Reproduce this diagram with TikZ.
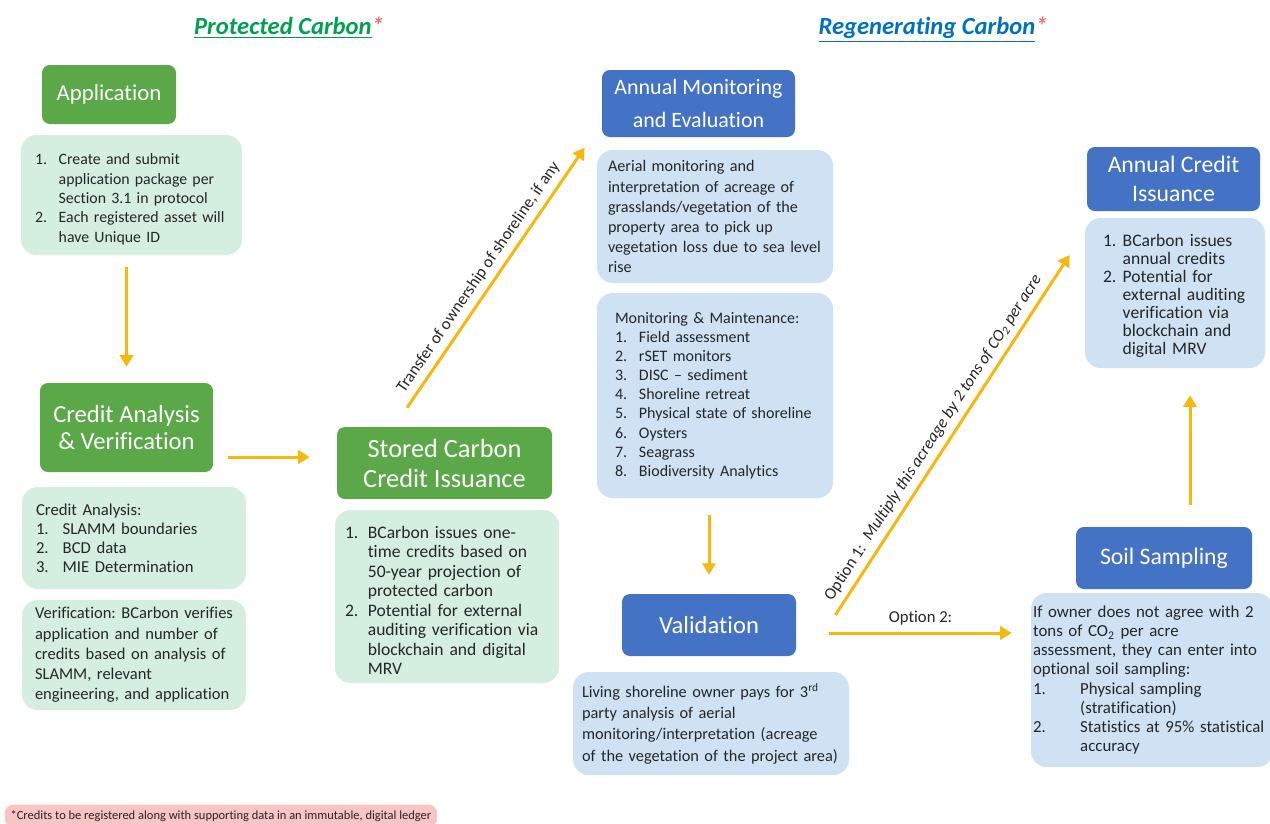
\documentclass[tikz,border=0pt]{standalone}
\usepackage{fontspec}
\setmainfont{Carlito}[Ligatures={TeX,NoCommon}]
\usetikzlibrary{arrows.meta}

\definecolor{hdrgreen}{RGB}{90,168,72}
\definecolor{boxgreen}{RGB}{212,238,224}
\definecolor{hdrblue}{RGB}{68,114,196}
\definecolor{boxblue}{RGB}{207,226,243}
\definecolor{arrowgold}{RGB}{246,184,12}
\definecolor{titlegreen}{RGB}{0,160,80}
\definecolor{titleblue}{RGB}{0,112,192}
\definecolor{starred}{RGB}{240,110,120}
\definecolor{notepink}{RGB}{249,196,196}
\definecolor{bodytext}{RGB}{38,38,38}

\newcommand{\litem}[3][1.5em]{\par\noindent\hangindent=#1\hangafter=1\makebox[#1][l]{#2}#3\par}
\frenchspacing
\hyphenpenalty=10000

\begin{document}
\begin{tikzpicture}[x=0.02cm, y=-0.02cm,
    hdrg/.style={fill=hdrgreen, text=white, rounded corners=4.5pt, align=center, inner sep=0pt},
    hdrb/.style={hdrg, fill=hdrblue},
    detg/.style={fill=boxgreen, text=bodytext, rounded corners=9pt, align=left, inner ysep=0pt},
    detb/.style={detg, fill=boxblue},
    wh/.style 2 args={minimum width=#1*\pxu, minimum height=#2*\pxu},
    tw/.style 2 args={text width=#1*\pxu, inner xsep=#2*\pxu},
    flow/.style={draw=arrowgold, line width=1.7pt, -{Triangle[length=6.5pt,width=7.5pt]}},
    lbl/.style={font=\fontsize{9.5}{11}\selectfont, text=bodytext}]
    \def\pxu{0.02cm}

    \useasboundingbox (0,0) rectangle (1270,823);
    \fill[white] (0,0) rectangle (1270,823);
    \clip (0,0) rectangle (1270,823);

    % titles
    \node[font=\fontsize{14}{16}\selectfont\bfseries\itshape, text=titlegreen] (tprot) at (289,28)
        {\underline{Protected~Carbon}\textcolor{starred}{*}};
    \node[font=\fontsize{14}{16}\selectfont\bfseries\itshape, text=titleblue] (tregen) at (933,30)
        {\underline{Regenerating~Carbon}\textcolor{starred}{*}};

    % protected carbon
    \node[hdrg, wh={134}{59}, font=\fontsize{13}{15}\selectfont] (app) at (109,94.5) {Application};
    \node[detg, tw={193}{14}, minimum height=120*\pxu, font=\fontsize{9}{11}\selectfont] (appd) at (131.5,195)
        {\litem{1.}{Create and submit\newline application package per\newline Section 3.1 in protocol}%
         \litem{2.}{Each registered asset will\newline have Unique ID}};

    \node[hdrg, wh={173}{89}, font=\fontsize{14}{15.5}\selectfont] (cav) at (126.5,427.5)
        {Credit Analysis\\\& Verification};
    \node[detg, tw={196}{14}, minimum height=102*\pxu, font=\fontsize{9.5}{10.8}\selectfont] (cad) at (134,538)
        {\noindent Credit Analysis:\par
         \litem[1.6em]{1.}{SLAMM boundaries}%
         \litem[1.6em]{2.}{BCD data}%
         \litem[1.6em]{3.}{MIE Determination}};
    \node[detg, tw={198}{13}, minimum height=110*\pxu, font=\fontsize{9.4}{11.5}\selectfont] (ver) at (134,655)
        {Verification: BCarbon verifies\newline application and number of\newline credits based on analysis of\newline
         SLAMM, relevant\newline engineering, and application\par};

    \node[hdrg, wh={215}{72}, font=\fontsize{15}{17}\selectfont] (sto) at (444.5,463)
        {Stored Carbon\\Credit Issuance};
    \node[detg, tw={204}{10}, minimum height=173*\pxu, font=\fontsize{10}{11.1}\selectfont] (stod) at (447,596.5)
        {\litem[1.3em]{1.}{BCarbon issues one-\newline time credits based on\newline 50-year projection of\newline protected carbon}%
         \litem[1.3em]{2.}{Potential for external\newline auditing verification via\newline blockchain and digital\newline MRV}};

    % regenerating carbon
    \node[hdrb, wh={193}{67}, font=\fontsize{12.5}{19}\selectfont] (amon) at (698.5,103.5)
        {Annual Monitoring\\and Evaluation};
    \node[detb, tw={214}{11}, minimum height=133*\pxu, font=\fontsize{9.2}{11.4}\selectfont] (aer) at (715,216.5)
        {Aerial monitoring  and\newline interpretation of acreage of\newline grasslands/vegetation of the\newline
         property  area to pick up\newline vegetation loss due to sea level\newline rise\par};
    \node[detb, tw={200}{18}, minimum height=205*\pxu, font=\fontsize{9.1}{10.9}\selectfont] (mm) at (715,395.5)
        {\noindent Monitoring  \& Maintenance:\par
         \litem{1.}{Field assessment}%
         \litem{2.}{rSET monitors}%
         \litem{3.}{DISC -- sediment}%
         \litem{4.}{Shoreline retreat}%
         \litem{5.}{Physical state of shoreline}%
         \litem{6.}{Oysters}%
         \litem{7.}{Seagrass}%
         \litem{8.}{Biodiversity Analytics}};

    \node[hdrb, wh={174}{62}, font=\fontsize{14}{16}\selectfont] (val) at (709,625) {Validation};
    \node[detb, tw={258}{9}, minimum height=103*\pxu, font=\fontsize{9.3}{12}\selectfont] (liv) at (711,723.5)
        {Living shoreline owner  pays for 3\textsuperscript{rd}\newline party analysis of aerial\newline
         monitoring/interpretation  (acreage\newline of the vegetation of the project area)\par};

    \node[hdrb, wh={173}{64}, font=\fontsize{13.5}{16.5}\selectfont] (acr) at (1173.5,179)
        {Annual Credit\\Issuance};
    \node[detb, tw={152}{14}, minimum height=150*\pxu, font=\fontsize{10}{10.2}\selectfont] (acd) at (1175,293)
        {\litem[1.35em]{\hspace*{0.08cm}1.}{BCarbon issues\newline annual credits}%
         \litem[1.35em]{\hspace*{0.08cm}2.}{Potential for\newline external auditing\newline verification via\newline blockchain and\newline digital MRV}};

    \node[hdrb, wh={176}{62}, font=\fontsize{13.5}{16}\selectfont] (soil) at (1164,558) {Soil Sampling};
    \node[detb, tw={238}{2}, minimum height=174*\pxu, font=\fontsize{9.6}{10.9}\selectfont] (sod) at (1152,680)
        {\noindent If owner  does not agree with 2\newline tons of CO\textsubscript{2} per acre\newline
         assessment, they can enter into\newline optional  soil sampling:\par
         \litem[2.8em]{1.}{Physical sampling\newline (stratification)}%
         \litem[2.8em]{2.}{Statistics at 95\% statistical\newline accuracy}};

    \node[fill=notepink, rounded corners=5pt, wh={432}{20}, font=\fontsize{7.1}{8}\selectfont, text=bodytext] (note) at (221,816)
        {*Credits to be registered along with supporting data in an immutable, digital ledger};

    % connectors
    \draw[flow, shorten <=0.24cm, shorten >=0.32cm] (cav |- appd.south) -- (cav.north);
    \draw[flow, shorten <=0.3cm, shorten >=0.54cm] (cav.east |- 0,457) -- (sto.west |- 0,457);
    \draw[flow] ([shift={(-37.5,-19)}]sto.north)
        -- node[lbl, pos=0.47, above, sloped] {Transfer of ownership of shoreline, if any}
        ([shift={(-12,-2)}]aer.north west);
    \draw[flow, shorten <=0.34cm, shorten >=0.38cm] (val |- mm.south) -- (val.north);
    \draw[flow] ([shift={(39,-10)}]val.east)
        -- node[lbl, pos=0.47, above, sloped] {Option 1:\ \ \textit{Multiply this acreage by 2 tons of CO\textsubscript{2} per acre}}
        ([shift={(-15,-38)}]acd.west);
    \draw[flow] ([shift={(33,8)}]val.east) -- node[lbl, midway, above] {Option 2:} ([shift={(-19,-47)}]sod.west);
    \draw[flow] ([shift={(26,-22)}]soil.north) -- ([shift={(15,27)}]acd.south);
\end{tikzpicture}
\end{document}
